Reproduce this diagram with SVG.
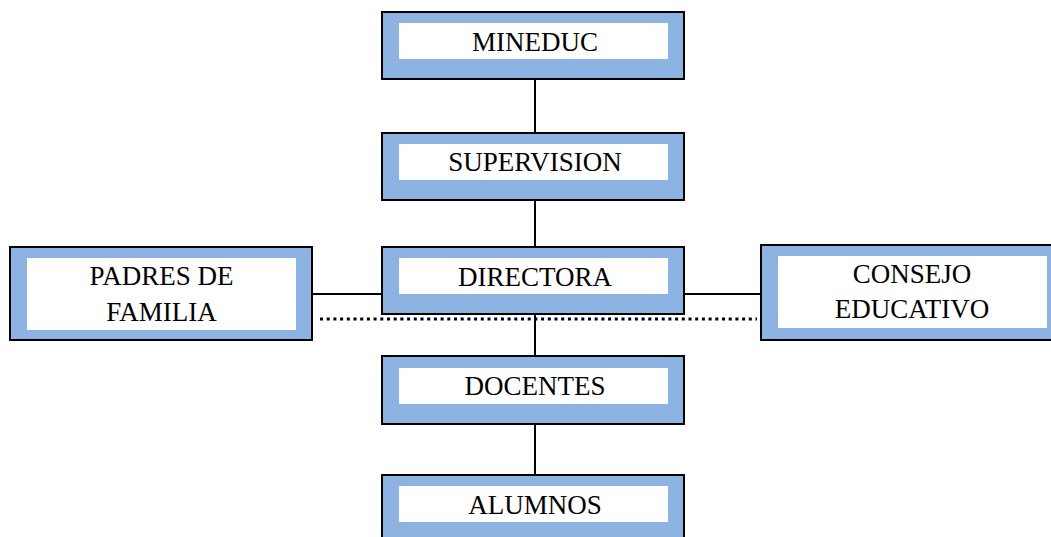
<svg xmlns="http://www.w3.org/2000/svg" width="1051" height="537" viewBox="0 0 1051 537">
<style>
.outer{fill:#8DB3E2;stroke:#000;stroke-width:2}
.inner{fill:#fff;stroke:none}
.t{font-family:"Liberation Serif",serif;font-size:27px;fill:#000;text-anchor:middle}
.ln{stroke:#000;stroke-width:2;fill:none}
.dot{stroke:#000;stroke-width:3;fill:none;stroke-dasharray:3 3.7}
</style>
<rect width="1051" height="537" fill="#fff"/>
<g id="connectors">
<line class="ln" x1="535" y1="79" x2="535" y2="133"/>
<line class="ln" x1="535" y1="200" x2="535" y2="247"/>
<line class="ln" x1="535" y1="314" x2="535" y2="356"/>
<line class="ln" x1="535" y1="424" x2="535" y2="475"/>
<line class="ln" x1="312" y1="294" x2="382" y2="294"/>
<line class="ln" x1="684" y1="294" x2="761" y2="294"/>
<line class="dot" x1="320" y1="319" x2="757" y2="319"/>
</g>
<g id="mineduc">
<rect class="outer" x="382" y="12" width="302" height="67"/>
<rect class="inner" x="399" y="23" width="269" height="36"/>
<text class="t" x="535" y="51">MINEDUC</text>
</g>
<g id="supervision">
<rect class="outer" x="382" y="133" width="302" height="67"/>
<rect class="inner" x="399" y="144" width="269" height="36"/>
<text class="t" x="535" y="171">SUPERVISION</text>
</g>
<g id="directora">
<rect class="outer" x="382" y="247" width="302" height="67"/>
<rect class="inner" x="399" y="258" width="269" height="36"/>
<text class="t" x="535" y="286">DIRECTORA</text>
</g>
<g id="docentes">
<rect class="outer" x="382" y="356" width="302" height="68"/>
<rect class="inner" x="399" y="368" width="269" height="36"/>
<text class="t" x="535" y="395">DOCENTES</text>
</g>
<g id="alumnos">
<rect class="outer" x="382" y="475" width="302" height="70"/>
<rect class="inner" x="399" y="486" width="269" height="36"/>
<text class="t" x="535" y="514">ALUMNOS</text>
</g>
<g id="padres">
<rect class="outer" x="10" y="247" width="302" height="93"/>
<rect class="inner" x="27" y="258" width="269" height="72"/>
<text class="t" x="161.5" y="285">PADRES DE</text>
<text class="t" x="161.5" y="321">FAMILIA</text>
</g>
<g id="consejo">
<rect class="outer" x="761" y="245" width="302" height="95"/>
<rect class="inner" x="778" y="256" width="269" height="72"/>
<text class="t" x="912" y="283">CONSEJO</text>
<text class="t" x="912" y="318">EDUCATIVO</text>
</g>
</svg>
